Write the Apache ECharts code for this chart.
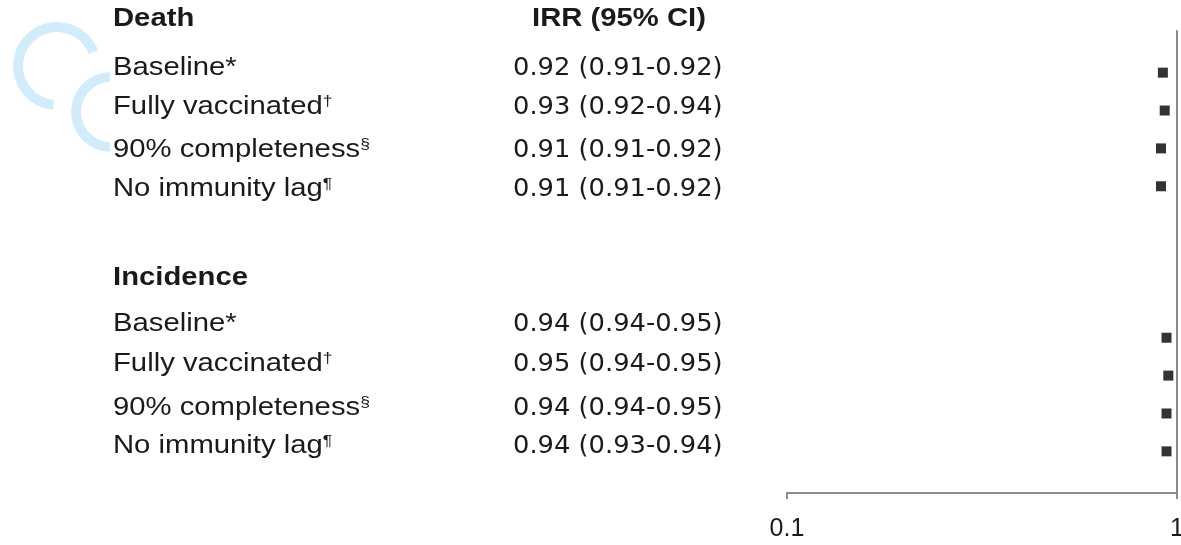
<!DOCTYPE html>
<html>
<head>
<meta charset="utf-8">
<script src="https://cdn.jsdelivr.net/npm/echarts@6/dist/echarts.min.js"></script>
<style>
html,body{margin:0;padding:0;background:#fff;}
#main{width:1181px;height:545px;}
</style>
</head>
<body>
<div id="main"></div>
<script>
// ---- data ----
var groups = ['Death', 'Incidence'];
var rowLabels = ['Baseline', 'Fully vaccinated', '90% completeness', 'No immunity lag'];
var rowMarks = ['*', '†', '§', '¶'];
var columnHeader = 'IRR (95% CI)';
var deathIRR = [0.92, 0.93, 0.91, 0.91];
var deathLow = [0.91, 0.92, 0.91, 0.91];
var deathHigh = [0.92, 0.94, 0.92, 0.92];
var incidenceIRR = [0.94, 0.95, 0.94, 0.94];
var incidenceLow = [0.94, 0.94, 0.94, 0.93];
var incidenceHigh = [0.95, 0.95, 0.95, 0.94];
var xTicks = [0.1, 1];

// ---- layout ----
var chart = echarts.init(document.getElementById('main'));
var SX = 1.17;
var leftX = 113, valX = 513, hdrX = 532;
var textY = [[19, 68, 107, 150, 189], [278, 324, 364, 408, 446]];
var txtColor = '#1a1a1a';

function fmt(v){ return v.toFixed(2); }

var graphics = [];
// watermark arcs
graphics.push({type:'arc', shape:{cx:57, cy:66, r:39, startAngle:1.66, endAngle:5.92, clockwise:true},
  style:{stroke:'#d3ecfb', lineWidth:10, fill:null}, z:0, silent:true});
graphics.push({type:'arc', shape:{cx:111, cy:112, r:35, startAngle:Math.PI/2, endAngle:Math.PI*1.5, clockwise:true},
  style:{stroke:'#d3ecfb', lineWidth:10, fill:null}, z:0, silent:true});
graphics.push({type:'rect', shape:{x:110, y:60, width:50, height:120}, style:{fill:'#fff'}, z:1, silent:true});

var allIRR = [deathIRR, incidenceIRR], allLow = [deathLow, incidenceLow], allHigh = [deathHigh, incidenceHigh];
function addText(x, y, txt, bold, family, rich){
  graphics.push({type:'text', x:x, y:y, scaleX:SX, z:10, silent:true,
    style:{text:txt, fill:txtColor, verticalAlign:'middle', align:'left',
      font:(bold?'bold ':'') + '25px ' + family, rich:rich}});
}
var supRich = {sup:{fontSize:15, fontFamily:'Liberation Sans', fill:txtColor, verticalAlign:'top', padding:[0,0,10,0]}};
groups.forEach(function(g, gi){
  addText(leftX, textY[gi][0], g, true, '"Liberation Sans", Arial, sans-serif');
  if (gi === 0) addText(hdrX, textY[gi][0], columnHeader, true, '"Liberation Sans", Arial, sans-serif');
  rowLabels.forEach(function(lab, ri){
    var t = ri === 0 ? lab + rowMarks[ri] : lab + '{sup|' + rowMarks[ri] + '}';
    addText(leftX, textY[gi][ri+1], t, false, '"Liberation Sans", Arial, sans-serif', supRich);
    graphics.push({type:'text', x:valX, y:textY[gi][ri+1], scaleX:1.03, z:10, silent:true,
      style:{text: fmt(allIRR[gi][ri]) + ' (' + fmt(allLow[gi][ri]) + '-' + fmt(allHigh[gi][ri]) + ')',
        fill:txtColor, verticalAlign:'middle', align:'left', font:'25px "DejaVu Sans", Verdana, sans-serif'}});
  });
});

// points: death rows at positions 1..4, incidence rows at 8..11
var pts = [];
deathIRR.forEach(function(v, i){ pts.push([v, i + 1]); });
incidenceIRR.forEach(function(v, i){ pts.push([v, i + 8]); });

chart.setOption({
  backgroundColor:'#fff',
  animation:false,
  graphic: graphics,
  grid:{left:787, right:4, top:31, bottom:52, containLabel:false, outerBoundsMode:'none'},
  xAxis:{type:'log', logBase:10, min:xTicks[0], max:xTicks[xTicks.length-1],
    axisLine:{show:true, onZero:false, lineStyle:{color:'#8c8c8c', width:2}},
    axisTick:{show:true, length:6, lineStyle:{color:'#8c8c8c', width:2}},
    splitLine:{show:false}, minorTick:{show:false},
    axisLabel:{show:true, margin:24, fontSize:25, fontFamily:'"Liberation Sans", Arial, sans-serif', color:'#1a1a1a',
      formatter:function(v){ return String(+v.toFixed(4)); }}
  },
  yAxis:{type:'value', inverse:true, min:-0.1, max:12.1, position:'right',
    axisLine:{show:true, onZero:false, lineStyle:{color:'#8c8c8c', width:2}},
    axisTick:{show:false}, axisLabel:{show:false}, splitLine:{show:false}},
  series:[{type:'scatter', data:pts, symbol:'rect', symbolSize:10, itemStyle:{color:'#000'}, z:5}]
});
</script>
</body>
</html>
